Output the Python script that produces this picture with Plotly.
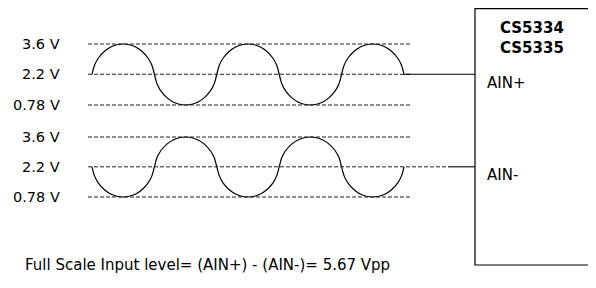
import plotly.graph_objects as go

W, H = 596, 288
OFF = 8  # the page body has an 8px margin; shift everything back by it

# ---- data ----
level_labels = ["3.6 V", "2.2 V", "0.78 V"]
levels = [3.6, 2.2, 0.78]
V_MID = 2.2

# shape of one half-cycle lobe (time in half-periods, fraction of the swing)
lobe_t = [0.0, 0.04, 0.1, 0.2, 0.3, 0.4, 0.5, 0.6, 0.7, 0.8, 0.9, 0.96]
lobe_frac = [0.0, 0.3, 0.53, 0.76, 0.9, 0.975, 1.0, 0.975, 0.9, 0.76, 0.53, 0.3]
ain_plus_peaks = [3.6, 0.78, 3.6, 0.78, 3.6]
ain_minus_peaks = [0.78, 3.6, 0.78, 3.6, 0.78]

chip_names = ["CS5334", "CS5335"]
pin_names = ["AIN+", "AIN-"]
caption = "Full Scale Input level= (AIN+) - (AIN-)= 5.67 Vpp"


def build(peaks):
    t, v = [], []
    for k, p in enumerate(peaks):
        for dt, f in zip(lobe_t, lobe_frac):
            t.append(k + dt)
            v.append(V_MID + f * (p - V_MID))
    t.append(len(peaks))
    v.append(V_MID)
    return t, v


# ---- layout geometry (pixels of the reference picture) ----
X0_PX, X5_PX = 92 - OFF, 404 - OFF
SX = (X5_PX - X0_PX) / len(ain_plus_peaks)


def px_t(px):
    return (px - OFF - X0_PX) / SX


def yrange(px_hi, px_lo):
    px_hi -= OFF
    px_lo -= OFF
    s = (px_lo - px_hi) / (levels[0] - levels[-1])
    return [levels[0] - (H - px_hi) / s, levels[0] + px_hi / s]


def px_x(px):
    return (px - OFF) / W


def px_y(px):
    return 1 - (px - OFF) / H


FONT = "DejaVu Sans"
fig = go.Figure()

tp, vp = build(ain_plus_peaks)
tm, vm = build(ain_minus_peaks)
wave_line = dict(color="black", width=1.2, shape="spline", smoothing=1)
fig.add_trace(go.Scatter(x=tp, y=vp, mode="lines", yaxis="y", line=wave_line,
                         hoverinfo="skip", showlegend=False))
fig.add_trace(go.Scatter(x=tm, y=vm, mode="lines", yaxis="y2", line=wave_line,
                         hoverinfo="skip", showlegend=False))

shapes = []
dash = dict(color="#222222", width=1, dash="4px,2px")
for yref in ["y", "y2"]:
    for lv in levels:
        x1 = 412
        if yref == "y2" and lv == V_MID:
            x1 = 448
        shapes.append(dict(type="line", xref="x", yref=yref, x0=px_t(88), x1=px_t(x1),
                           y0=lv, y1=lv, line=dash))
# connections to the chip pins
shapes.append(dict(type="line", xref="x", yref="y", x0=len(ain_plus_peaks), x1=px_t(475),
                   y0=V_MID, y1=V_MID, line=dict(color="black", width=1.1)))
shapes.append(dict(type="line", xref="x", yref="y2", x0=px_t(448), x1=px_t(475),
                   y0=V_MID, y1=V_MID, line=dict(color="black", width=1.1)))
# chip box (right edge off the picture)
shapes.append(dict(type="rect", xref="paper", yref="paper", x0=px_x(475), x1=1.05,
                   y0=px_y(265), y1=px_y(8.7), line=dict(color="black", width=1.2)))

ann = []
for yref in ["y", "y2"]:
    for lab, lv in zip(level_labels, levels):
        ann.append(dict(text=lab, xref="paper", yref=yref, x=px_x(62), y=lv,
                        xanchor="right", yanchor="middle", showarrow=False,
                        font=dict(family=FONT, size=14.5, color="black")))
for name, ypx in zip(chip_names, [28, 48]):
    ann.append(dict(text="<b>%s</b>" % name, xref="paper", yref="paper", x=px_x(498), y=px_y(ypx),
                    xanchor="left", yanchor="middle", showarrow=False,
                    font=dict(family=FONT, size=15, color="black")))
for name, ypx in zip(pin_names, [83, 175]):
    ann.append(dict(text=name, xref="paper", yref="paper", x=px_x(485), y=px_y(ypx),
                    xanchor="left", yanchor="middle", showarrow=False,
                    font=dict(family=FONT, size=15, color="black")))
ann.append(dict(text=caption, xref="paper", yref="paper", x=px_x(23), y=px_y(265),
                xanchor="left", yanchor="middle", showarrow=False,
                font=dict(family=FONT, size=15, color="black")))

fig.update_layout(
    width=W, height=H, margin=dict(l=0, r=0, t=0, b=0),
    paper_bgcolor="white", plot_bgcolor="white",
    xaxis=dict(visible=False, range=[px_t(OFF), px_t(W + OFF)], fixedrange=True),
    yaxis=dict(visible=False, range=yrange(44, 105), fixedrange=True),
    yaxis2=dict(visible=False, range=yrange(137, 197), overlaying="y", fixedrange=True),
    shapes=shapes, annotations=ann, showlegend=False,
)

fig.write_html("out.html")
